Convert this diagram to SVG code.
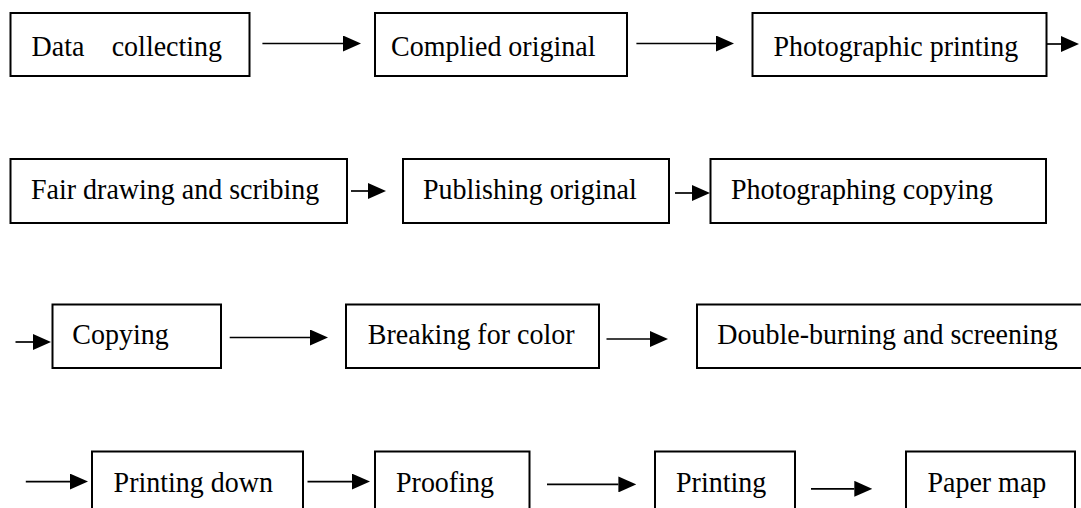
<svg xmlns="http://www.w3.org/2000/svg" width="1081" height="508" viewBox="0 0 1081 508">
<style>
.box{fill:#fff;stroke:#000;stroke-width:2}
.lbl{font-family:"Liberation Serif","Times New Roman",serif;font-size:28px;fill:#000}
.arr{fill:none;stroke:#000;stroke-width:1.7}
</style>
<defs>
<marker id="ah" markerUnits="userSpaceOnUse" markerWidth="18" markerHeight="16" refX="0" refY="8" orient="auto" viewBox="0 0 18 16">
<path d="M0,0 L18,8 L0,16 Z" fill="#000"/>
</marker>
</defs>
<rect width="1081" height="508" fill="#fff"/>
<g id="connectors">
<path class="arr" marker-end="url(#ah)" d="M262.4,43.5 H343"/>
<path class="arr" marker-end="url(#ah)" d="M636.4,43.5 H716"/>
<path class="arr" marker-end="url(#ah)" d="M1047,44 H1061"/>
<path class="arr" marker-end="url(#ah)" d="M351,191 H368"/>
<path class="arr" marker-end="url(#ah)" d="M675,193 H692"/>
<path class="arr" marker-end="url(#ah)" d="M15.5,342 H33"/>
<path class="arr" marker-end="url(#ah)" d="M229.7,337.5 H310"/>
<path class="arr" marker-end="url(#ah)" d="M606.5,339 H650"/>
<path class="arr" marker-end="url(#ah)" d="M25.8,481.6 H70"/>
<path class="arr" marker-end="url(#ah)" d="M307.5,481.6 H352"/>
<path class="arr" marker-end="url(#ah)" d="M547,484.4 H618.4"/>
<path class="arr" marker-end="url(#ah)" d="M811,488.8 H854.3"/>
</g>
<g id="n1"><rect class="box" x="10.5" y="13" width="239" height="63"/><text class="lbl" transform="translate(31.5,56) scale(1,1.08)">Data</text><text class="lbl" transform="translate(111.7,56) scale(1,1.08)">collecting</text></g>
<g id="n2"><rect class="box" x="375" y="13" width="252" height="63"/><text class="lbl" transform="translate(391,56) scale(1,1.08)">Complied original</text></g>
<g id="n3"><rect class="box" x="752.5" y="13" width="294" height="63"/><text class="lbl" transform="translate(773.5,56) scale(1,1.08)">Photographic printing</text></g>
<g id="n4"><rect class="box" x="10.5" y="159" width="336.5" height="64"/><text class="lbl" transform="translate(31,199) scale(1,1.08)">Fair drawing and scribing</text></g>
<g id="n5"><rect class="box" x="403" y="159" width="266" height="64"/><text class="lbl" transform="translate(423,199) scale(1,1.08)">Publishing original</text></g>
<g id="n6"><rect class="box" x="710.5" y="159" width="335.5" height="64"/><text class="lbl" transform="translate(731,199) scale(1,1.08)">Photographing copying</text></g>
<g id="n7"><rect class="box" x="52.5" y="304.5" width="168.5" height="63.5"/><text class="lbl" transform="translate(72.3,344) scale(1,1.08)">Copying</text></g>
<g id="n8"><rect class="box" x="346" y="304.5" width="253" height="63.5"/><text class="lbl" transform="translate(367.8,344) scale(1,1.08)">Breaking for color</text></g>
<g id="n9"><rect class="box" x="697" y="304.5" width="400" height="63.5"/><text class="lbl" transform="translate(717.3,344) scale(1,1.08)">Double-burning and screening</text></g>
<g id="n10"><rect class="box" x="92" y="451.5" width="211" height="80"/><text class="lbl" transform="translate(113.6,492) scale(1,1.08)">Printing down</text></g>
<g id="n11"><rect class="box" x="375" y="451.5" width="154.5" height="80"/><text class="lbl" transform="translate(396,492) scale(1,1.08)">Proofing</text></g>
<g id="n12"><rect class="box" x="655" y="451.5" width="140" height="80"/><text class="lbl" transform="translate(676,492) scale(1,1.08)">Printing</text></g>
<g id="n13"><rect class="box" x="906" y="451.5" width="169" height="80"/><text class="lbl" transform="translate(927.4,492) scale(1,1.08)">Paper map</text></g>
</svg>
